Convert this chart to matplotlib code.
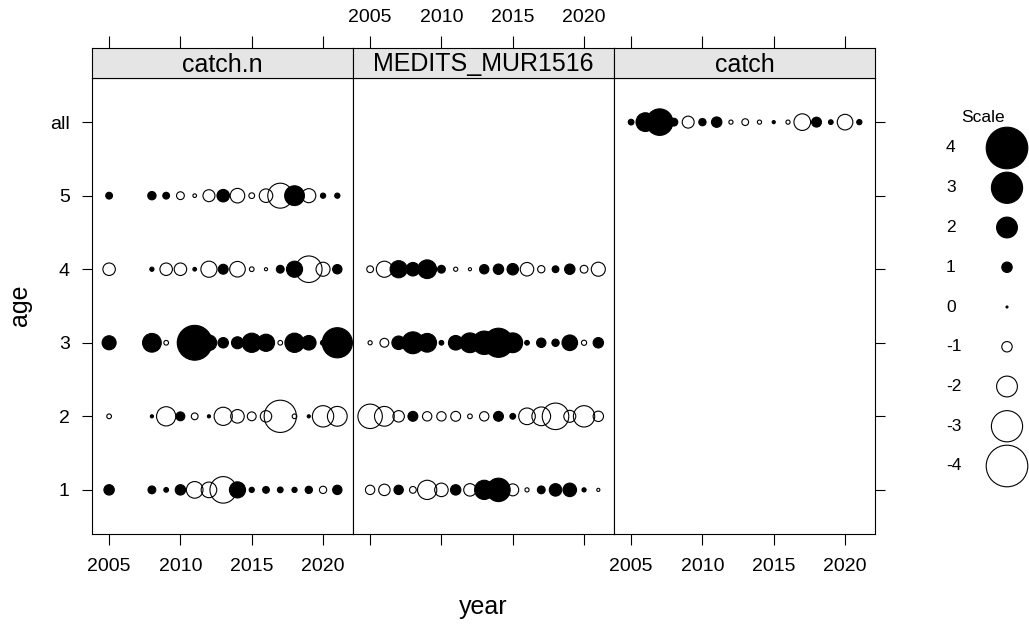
"""
Bubble plot of residuals by age and year (catch.n / MEDITS_MUR1516 / catch)
"""

import matplotlib.pyplot as plt

plt.rcParams["font.family"] = ["Liberation Sans", "DejaVu Sans"]

# ---- data (residuals) ----
panel_names = ["catch.n", "MEDITS_MUR1516", "catch"]
age_labels = ["1", "2", "3", "4", "5", "all"]
year_ticks = [2005, 2010, 2015, 2020]

catchn_years = [2005, 2008, 2009, 2010, 2011, 2012, 2013, 2014,
                2015, 2016, 2017, 2018, 2019, 2020, 2021]
catchn_age1 = [1.0, 0.75, 0.45, 1.0, -1.6, -1.5, -2.55, 1.55,
               0.5, 0.65, 0.55, 0.5, 0.7, -0.7, 0.9]
catchn_age2 = [-0.45, 0.3, -1.85, 0.85, -0.65, 0.3, -1.75, -1.3,
               -0.85, -1.1, -3.1, -0.45, 0.3, -2.05, -1.9]
catchn_age3 = [1.35, 1.8, -0.45, 0.5, 3.35, 1.5, 1.0, 1.15,
               1.85, 1.65, -0.45, 1.85, 1.4, 0.5, 2.9]
catchn_age4 = [-1.2, 0.4, -1.2, -1.2, 0.35, -1.55, 0.95, -1.5,
               -0.45, -0.3, 0.75, 1.55, -2.55, -1.35, 0.9]
catchn_age5 = [0.65, 0.8, 0.65, -0.75, -0.35, -1.15, 1.2, -1.4,
               -0.55, -1.3, -2.4, 1.9, -1.35, 0.5, 0.5]

medits_years = list(range(2005, 2022))
medits_age1 = [-0.9, -1.1, 0.9, -0.65, -1.85, -1.3, 1.0, -1.2, 1.85,
               2.25, -1.15, -0.4, 0.75, 1.2, 1.3, 0.4, -0.3]
medits_age2 = [-2.35, -1.9, -1.1, 0.95, -0.9, -0.9, -0.95, -0.45, -0.9,
               0.95, 0.55, -1.6, -1.8, -2.55, -1.15, -2.05, -1.0]
medits_age3 = [-0.4, -0.85, 1.3, 2.1, 1.8, 0.45, 1.4, 1.9, 2.25,
               2.8, 1.9, 0.45, 0.9, 0.7, 1.5, -0.5, 1.0]
medits_age4 = [-0.65, -1.55, 1.65, 1.3, 1.8, 0.75, -0.4, -0.3, 0.9,
               1.0, 1.1, -1.3, -0.7, 0.65, 1.0, -0.75, -1.35]

catch_years = list(range(2005, 2022))
catch_all = [0.55, 1.8, 2.55, 0.75, -1.15, 0.7, 1.0, -0.4, -0.65,
             -0.4, 0.3, -0.4, -1.6, 0.95, 0.45, -1.5, 0.5]

scale_values = [4, 3, 2, 1, 0, -1, -2, -3, -4]

panels = [
    (catchn_years, [catchn_age1, catchn_age2, catchn_age3, catchn_age4, catchn_age5]),
    (medits_years, [medits_age1, medits_age2, medits_age3, medits_age4]),
    (catch_years, [None, None, None, None, None, catch_all]),
]

# ---- layout (pixels) ----
W, H = 1029, 628
DPI = 100
fig = plt.figure(figsize=(W / DPI, H / DPI), dpi=DPI)

lefts = [92, 353, 614]
pw = 261
plot_top, plot_bot, strip_top = 78, 534, 48


def fx(px):
    return px / W


def fy(py):
    return 1 - py / H


def bsize(v):
    d_px = max(2.0, 10.4 * abs(v))
    return (d_px * 72 / DPI) ** 2


def bubbles(ax, xs, ys, vals):
    s = [bsize(v) for v in vals]
    fc = ["black" if v >= 0 else "none" for v in vals]
    ax.scatter(xs, ys, s=s, facecolors=fc, edgecolors="black", linewidths=0.8)


for i, (name, (years, rows)) in enumerate(zip(panel_names, panels)):
    ax = fig.add_axes([fx(lefts[i]), fy(plot_bot), pw / W, (plot_bot - plot_top) / H])
    for k, vals in enumerate(rows):
        if vals is None:
            continue
        bubbles(ax, years, [k + 1] * len(years), vals)

    ax.set_xlim(2003.8, 2022.1)
    ax.set_ylim(0.4, 6.6)
    ax.set_xticks(year_ticks)
    ax.set_yticks(range(1, 7))
    ax.set_yticklabels(age_labels)
    for sp in ax.spines.values():
        sp.set_linewidth(0.8)
    ax.tick_params(axis="x", direction="out", length=8, width=0.8, pad=9,
                   labelsize=14, bottom=True, labelbottom=(i != 1))
    ax.tick_params(axis="y", direction="out", length=7, width=0.8, pad=9,
                   labelsize=14, left=(i == 0), labelleft=(i == 0),
                   right=(i == 2), labelright=False)

    # strip
    st = fig.add_axes([fx(lefts[i]), fy(plot_top), pw / W, (plot_top - strip_top) / H])
    st.set_facecolor("#E5E5E5")
    st.set_xlim(2003.8, 2022.1)
    st.set_ylim(0, 1)
    st.set_yticks([])
    st.set_xticks(year_ticks)
    st.tick_params(axis="x", direction="out", length=8.5, width=0.8, pad=7,
                   labelsize=14, top=True, bottom=False,
                   labeltop=(i == 1), labelbottom=False)
    for sp in st.spines.values():
        sp.set_linewidth(0.8)
    st.text(0.5, 0.45, name, transform=st.transAxes, ha="center",
            va="center", fontsize=18)

fig.text(fx(20), fy(305), "age", rotation=90, ha="center", va="center", fontsize=18)
fig.text(fx(483), fy(607), "year", ha="center", va="center", fontsize=18)

# ---- scale legend ----
lg = fig.add_axes([0, 0, 1, 1])
lg.set_xlim(0, W)
lg.set_ylim(H, 0)
lg.axis("off")
lg.patch.set_alpha(0)
fig.text(fx(983), fy(117), "Scale", ha="center", va="center", fontsize=12.5)
leg_y = [148 + 39.75 * k for k in range(len(scale_values))]
bubbles(lg, [1007] * len(scale_values), leg_y, scale_values)
for v, y in zip(scale_values, leg_y):
    fig.text(fx(946), fy(y), str(v), ha="left", va="center", fontsize=12.5)

fig.savefig("out.png", dpi=DPI)
